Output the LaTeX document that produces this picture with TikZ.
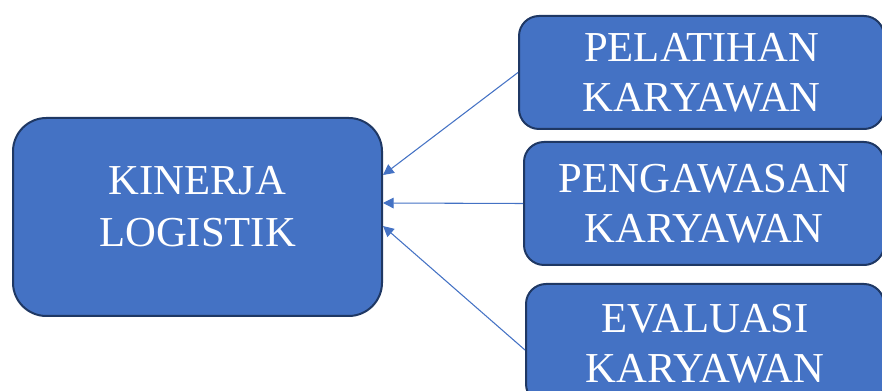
\documentclass[tikz,border=0pt]{standalone}
\usepackage{fontspec}
\setmainfont{Liberation Serif}
\usetikzlibrary{arrows.meta}
\definecolor{boxblue}{HTML}{4472C4}
\definecolor{boxedge}{HTML}{1F3864}
\begin{document}
\begin{tikzpicture}[
		x=0.75pt, y=-0.75pt,
		mainbox/.style={draw=boxedge, line width=1.5pt, fill=boxblue,
				rounded corners=25pt, minimum width=276.75pt, minimum height=148.5pt},
		factorbox/.style={draw=boxedge, line width=1.5pt, fill=boxblue,
				rounded corners=15pt, minimum width=#1, text=white, align=center,
				font=\fontsize{32pt}{37.5pt}\selectfont, inner sep=0pt},
		bigtext/.style={text=white, align=center, font=\fontsize{32pt}{39pt}\selectfont},
		link/.style={boxblue, line width=0.8pt, -{Triangle[length=8pt,width=8pt]}}
	]
	\clip (0,0) rectangle (882,391);
	% main box
	\node[mainbox] (kinerja) at (197.5,217) {};
	\node[bigtext] (kinerjatext) at ([yshift=7.5pt]kinerja.center) {KINERJA\\LOGISTIK};
	% factor boxes
	\node[factorbox=273.75pt, minimum height=84.75pt] (pelatihan) at (701.5,72.5) {PELATIHAN\\KARYAWAN};
	\node[factorbox=270pt, minimum height=92.25pt] (pengawasan) at (704,203.5) {PENGAWASAN\\KARYAWAN};
	\node[factorbox=268.5pt, minimum height=90pt] (evaluasi) at (705,344) {EVALUASI\\KARYAWAN};
	% arrows
	\draw[link] (pelatihan.west) -- ([yshift=31.5pt]kinerja.east);
	\draw[link] (pengawasan.west) -- ([yshift=10.5pt]kinerja.east);
	\draw[link] ([yshift=-4.5pt]evaluasi.west) -- ([yshift=-6.75pt]kinerja.east);
\end{tikzpicture}
\end{document}
